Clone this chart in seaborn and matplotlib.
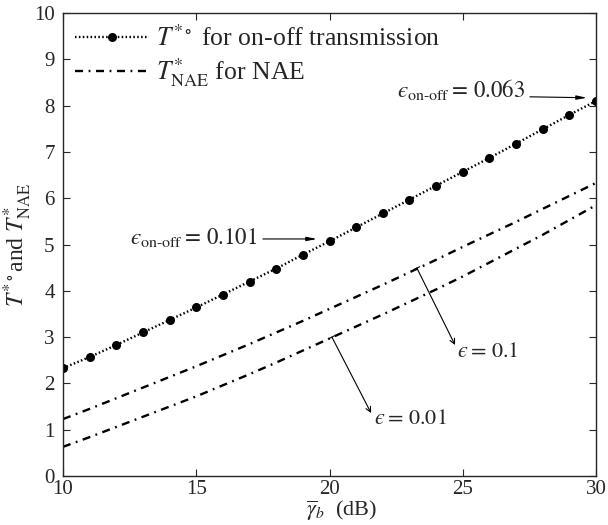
import seaborn as sns
import pandas as pd
import matplotlib.pyplot as plt

# average SNR (dB)
snr_db = list(range(10, 31))

# T*o for on-off transmission
t_onoff = [2.33, 2.57, 2.83, 3.10, 3.37, 3.64, 3.92, 4.20, 4.48, 4.78, 5.07,
           5.37, 5.67, 5.97, 6.27, 6.57, 6.87, 7.18, 7.49, 7.80, 8.10]

# T*_NAE, eps = 0.1
t_nae_01 = [1.23, 1.45, 1.68, 1.91, 2.14, 2.37, 2.61, 2.85, 3.10, 3.35, 3.61,
            3.87, 4.13, 4.40, 4.67, 4.95, 5.22, 5.49, 5.77, 6.05, 6.33]

# T*_NAE, eps = 0.01
t_nae_001 = [0.63, 0.84, 1.06, 1.28, 1.50, 1.72, 1.96, 2.20, 2.45, 2.71, 2.97,
             3.23, 3.49, 3.76, 4.03, 4.31, 4.61, 4.91, 5.21, 5.53, 5.85]

df = pd.DataFrame({"snr": snr_db, "onoff": t_onoff,
                   "nae01": t_nae_01, "nae001": t_nae_001})

sns.set_style("ticks")
plt.rcParams["font.family"] = ["Liberation Serif", "DejaVu Serif"]
plt.rcParams["mathtext.fontset"] = "stix"
plt.rcParams["lines.scale_dashes"] = False

fig = plt.figure(figsize=(6.08, 5.25), dpi=100)
ax = fig.add_axes([0.1036, 0.0933, 0.8767, 0.8819])

dashdot = (0, (5.8, 4.0, 1.3, 4.0))
dotted = (0, (1.1, 1.7))

sns.lineplot(data=df, x="snr", y="onoff", ax=ax, color="k", lw=1.7,
             linestyle=dotted, marker="o", markersize=6.5, markeredgewidth=0,
             label=r"$T^{*\circ}$ for on-off transmission")
sns.lineplot(data=df, x="snr", y="nae01", ax=ax, color="k", lw=1.7,
             linestyle=dashdot, label=r"$T^{*}_{\mathrm{NAE}}$ for NAE")
sns.lineplot(data=df, x="snr", y="nae001", ax=ax, color="k", lw=1.7,
             linestyle=dashdot)

ax.set_xlim(10, 30)
ax.set_ylim(0, 10)
ax.set_xticks([10, 15, 20, 25, 30])
ax.set_yticks(range(0, 11))
ax.tick_params(direction="in", top=True, right=True, length=5, width=0.8,
               labelsize=15)
ax.tick_params(axis="x", pad=3)
ax.tick_params(axis="y", pad=6)
for s in ax.spines.values():
    s.set_linewidth(1.0)
    s.set_visible(True)

ax.set_xlabel(r"$\overline{\gamma}_b$  (dB)", fontsize=16)
ax.xaxis.set_label_coords(0.522, -0.048)
ax.set_ylabel(r"$T^{*\circ}$and $T^{*}_{\mathrm{NAE}}$", fontsize=17, labelpad=0)

ax.legend(loc="upper left", frameon=False, fontsize=18.5, handlelength=2.85,
          handletextpad=0.3, labelspacing=0.2, borderaxespad=0.2,
          borderpad=0.28)

arr = dict(arrowstyle="]->,widthA=0.25,lengthA=0", mutation_scale=9,
           color="k", lw=0.8, shrinkA=0, shrinkB=0)
harr = dict(arrowstyle="-|>,head_length=0.6,head_width=0.12",
            color="k", lw=0.8, shrinkA=0, shrinkB=0)

ax.annotate("", xy=(29.66, 8.17), xytext=(27.52, 8.19), arrowprops=harr)
ax.text(27.34, 8.34, "$ϵ_{\\text{on-off}} = \\,0.063$", fontsize=16.5,
        ha="right", va="center")

ax.annotate("", xy=(19.53, 5.12), xytext=(17.5, 5.12), arrowprops=harr)
ax.text(17.28, 5.16, "$ϵ_{\\text{on-off}} = \\,0.101$", fontsize=16.5,
        ha="right", va="center")

ax.annotate("", xy=(24.71, 2.83), xytext=(23.28, 4.49), arrowprops=arr)
ax.text(24.78, 2.66, "$ϵ = \\,0.1$", fontsize=16, ha="left", va="center")

ax.annotate("", xy=(21.56, 1.36), xytext=(20.09, 3.0), arrowprops=arr)
ax.text(21.67, 1.21, "$ϵ = \\,0.01$", fontsize=16, ha="left", va="center")

fig.savefig("out.png", dpi=100)
